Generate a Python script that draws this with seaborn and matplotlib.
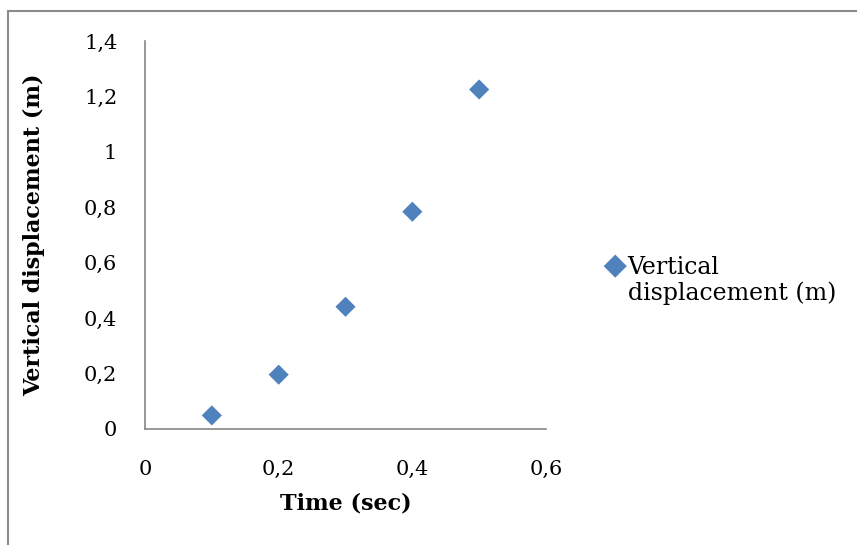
import matplotlib
matplotlib.use("Agg")
import matplotlib.pyplot as plt
import seaborn as sns
import pandas as pd
from matplotlib.patches import Rectangle
from matplotlib.ticker import FuncFormatter, MultipleLocator

time_sec = [0.1, 0.2, 0.3, 0.4, 0.5]
vertical_disp = [0.049, 0.196, 0.441, 0.784, 1.225]
series_name = "Vertical\ndisplacement (m)"
x_label = "Time (sec)"
y_label = "Vertical displacement (m)"

sns.set_theme(style="white")
plt.rcParams['font.family'] = ['DejaVu Serif']
plt.rcParams['text.color'] = 'black'
plt.rcParams['axes.labelcolor'] = 'black'

df = pd.DataFrame({"t": time_sec, "y": vertical_disp})

fig = plt.figure(figsize=(8.57, 5.45), dpi=100)
ax = fig.add_axes([145/857, 1-429/545, (546-145)/857, (429-41)/545])

sns.scatterplot(data=df, x="t", y="y", ax=ax, marker="D", s=105,
                color="#4F81BD", edgecolor="none", linewidth=0,
                label=series_name)

ax.set_xlim(0, 0.6)
ax.set_ylim(0, 1.4)
ax.xaxis.set_major_locator(MultipleLocator(0.2))
ax.yaxis.set_major_locator(MultipleLocator(0.2))
fmt = FuncFormatter(lambda v, p: ("%g" % round(v, 2)).replace(".", ","))
ax.xaxis.set_major_formatter(fmt)
ax.yaxis.set_major_formatter(fmt)
ax.tick_params(axis="both", length=0, labelsize=15, colors="black")
ax.tick_params(axis="x", pad=22)
ax.tick_params(axis="y", pad=20)

for s in ["top", "right"]:
    ax.spines[s].set_visible(False)
for s in ["left", "bottom"]:
    ax.spines[s].set_color("#868686")
    ax.spines[s].set_linewidth(1.2)

ax.set_xlabel(x_label, fontsize=16, fontweight="bold", labelpad=10, color="black")
ax.set_ylabel(y_label, fontsize=16, fontweight="bold", labelpad=28, color="black")

leg = ax.legend(loc="upper left", bbox_to_anchor=(594/857, 1-244/545),
                bbox_transform=fig.transFigure, frameon=False,
                fontsize=17, handletextpad=0.12, borderpad=0,
                handlelength=0.8, handleheight=0.7, markerscale=1.15)
for t in leg.get_texts():
    t.set_linespacing(1.15)
    t.set_color("black")
for col in leg._legend_handle_box.get_children():
    for item in col.get_children():
        item.align = "top"

fig.patches.append(Rectangle((8/857, -0.1), 2, 1.1 - 10.5/545,
                             transform=fig.transFigure, fill=False,
                             edgecolor="#8C8C8C", linewidth=1.5))

fig.savefig("out.png", dpi=100, facecolor="white")
